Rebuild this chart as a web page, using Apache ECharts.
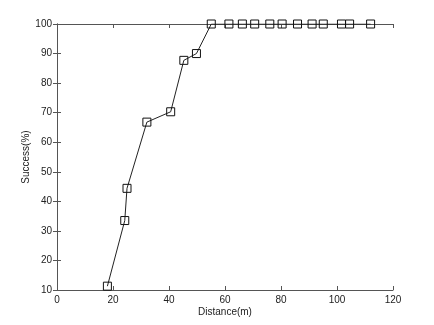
<!DOCTYPE html>
<html><head><meta charset="utf-8">
<script src="https://cdn.jsdelivr.net/npm/echarts@6/dist/echarts.min.js"></script>
<style>html,body{margin:0;padding:0;background:#fff}#c{width:434px;height:325px}</style>
</head><body><div id="c"></div>
<script>
const distance = [18, 24.2, 25, 32.1, 40.6, 45.3, 49.8, 55.1, 61.4, 66.2, 70.6, 76, 80.4, 85.9, 91.1, 95.1, 101.6, 104.5, 112];
const success = [11.3, 33.5, 44.4, 66.8, 70.3, 87.7, 90, 100, 100, 100, 100, 100, 100, 100, 100, 100, 100, 100, 100];
const xTicks = [0, 20, 40, 60, 80, 100, 120];
const yTicks = [10, 20, 30, 40, 50, 60, 70, 80, 90, 100];

const chart = echarts.init(document.getElementById('c'));
const font = {fontFamily: 'Liberation Sans, Arial, sans-serif', fontSize: 10, color: '#222'};
const axisLine = {show: true, lineStyle: {color: '#555', width: 1}};
const tickIn = {show: true, inside: true, length: 4, lineStyle: {color: '#555'}};
chart.setOption({
  animation: false,
  grid: {left: 57, right: 41, top: 24, bottom: 35, show: false},
  xAxis: [{
    type: 'value', min: xTicks[0], max: xTicks[xTicks.length - 1], interval: 20,
    axisLine: axisLine, axisTick: tickIn, splitLine: {show: false},
    axisLabel: Object.assign({margin: 5}, font),
    name: 'Distance(m)', nameLocation: 'middle', nameGap: 17, nameMoveOverlap: false, nameTextStyle: font
  }, {
    type: 'value', position: 'top', min: 0, max: 120, interval: 20,
    axisLine: axisLine, axisTick: tickIn, axisLabel: {show: false}, splitLine: {show: false}
  }],
  yAxis: [{
    type: 'value', min: yTicks[0], max: yTicks[yTicks.length - 1], interval: 10,
    axisLine: axisLine, axisTick: tickIn, splitLine: {show: false},
    axisLabel: Object.assign({margin: 5}, font),
    name: 'Success(%)', nameLocation: 'middle', nameGap: 26, nameMoveOverlap: false, nameTextStyle: font
  }, {
    type: 'value', position: 'right', min: 10, max: 100, interval: 10,
    axisLine: axisLine, axisTick: tickIn, axisLabel: {show: false}, splitLine: {show: false}
  }],
  series: [{
    type: 'line',
    data: distance.map((d, i) => [d, success[i]]),
    symbol: 'rect', symbolSize: 8,
    lineStyle: {color: '#222', width: 1},
    itemStyle: {color: 'rgba(0,0,0,0)', borderColor: '#111', borderWidth: 1}
  }]
});
</script></body></html>
